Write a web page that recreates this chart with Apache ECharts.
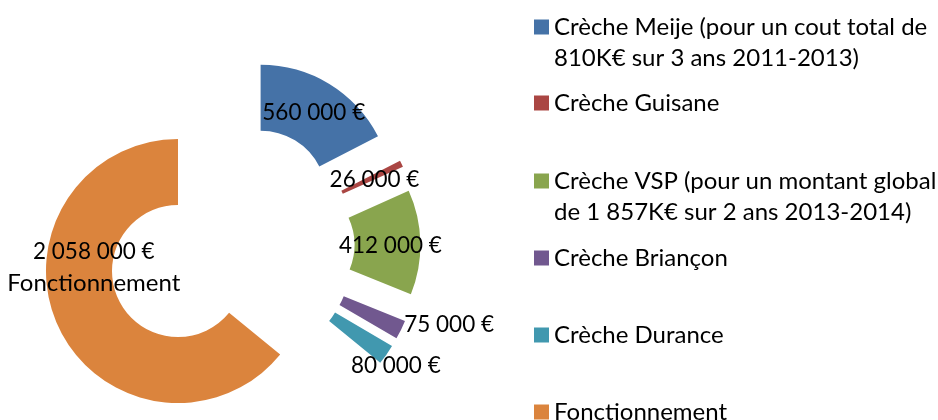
<!DOCTYPE html>
<html>
<head>
<meta charset="utf-8">
<script src="https://cdn.jsdelivr.net/npm/echarts@6/dist/echarts.min.js"></script>
<style>
  html, body { margin: 0; padding: 0; background: #fff; }
  #chart { width: 938px; height: 420px; }
</style>
</head>
<body>
<div id="chart"></div>
<script>
// données du graphique
const categories = [
  'Crèche Meije (pour un cout total de\n810K€ sur 3 ans 2011-2013)',
  'Crèche Guisane',
  'Crèche VSP (pour un montant global\nde 1 857K€ sur 2 ans 2013-2014)',
  'Crèche Briançon',
  'Crèche Durance',
  'Fonctionnement'
];
const values = [560000, 26000, 412000, 75000, 80000, 2058000];
const colors = ['#4572A7', '#AA4643', '#89A54E', '#71588F', '#4198AF', '#DB843D'];

const FONT = 'Lato';

function euro(v) {
  return String(v).replace(/\B(?=(\d{3})+(?!\d))/g, ' ') + ' €';
}

// décalage des étiquettes (placement "au mieux" d'Excel)
const labelShift = { 0: [0, 3], 1: [0, 3], 2: [0, 3], 3: [75, 8], 4: [34, 28], 5: [8, -47] };
// centre des icônes de légende
const legendY = [27, 103, 181, 258, 335, 412];

const chart = echarts.init(document.getElementById('chart'));

const option = {
  animation: false,
  color: colors,
  legend: categories.map((name, i) => {
    const twoLines = name.indexOf('\n') !== -1;
    return {
      data: [name],
      orient: 'vertical',
      left: 534,
      top: legendY[i] - (twoLines ? 46.5 : 15.5),
      icon: 'rect',
      itemWidth: 15,
      itemHeight: 15,
      selectedMode: false,
      padding: 0,
      formatter: n => (n.indexOf('\n') !== -1 ? '\n' + n : n),
      textStyle: {
        fontFamily: FONT,
        fontSize: 24,
        lineHeight: 31,
        color: '#000'
      }
    };
  }),
  series: [
    {
      type: 'pie',
      center: [230.4, 246.2],
      radius: [66, 132],
      startAngle: 90,
      clockwise: true,
      selectedMode: 'multiple',
      selectedOffset: 58,
      avoidLabelOverlap: false,
      emphasis: { disabled: true },
      itemStyle: { borderWidth: 0 },
      label: {
        show: true,
        position: 'inside',
        fontFamily: FONT,
        fontSize: 22.5,
        lineHeight: 31,
        color: '#000',
        textBorderWidth: 0,
        formatter: p => (p.dataIndex === 5
          ? '{n|' + euro(p.value) + '}\n{t|' + p.name + '}'
          : '{n|' + euro(p.value) + '}'),
        rich: {
          n: { fontFamily: FONT, fontSize: 22.5, lineHeight: 31, color: '#000' },
          t: { fontFamily: FONT, fontSize: 24, lineHeight: 31, color: '#000' }
        }
      },
      labelLine: { show: false },
      labelLayout: params => {
        const s = labelShift[params.dataIndex] || [0, 0];
        return { dx: s[0], dy: s[1] };
      },
      data: categories.map((name, i) => ({
        name: name,
        value: values[i],
        selected: true
      }))
    }
  ]
};

chart.setOption(option);
</script>
</body>
</html>
